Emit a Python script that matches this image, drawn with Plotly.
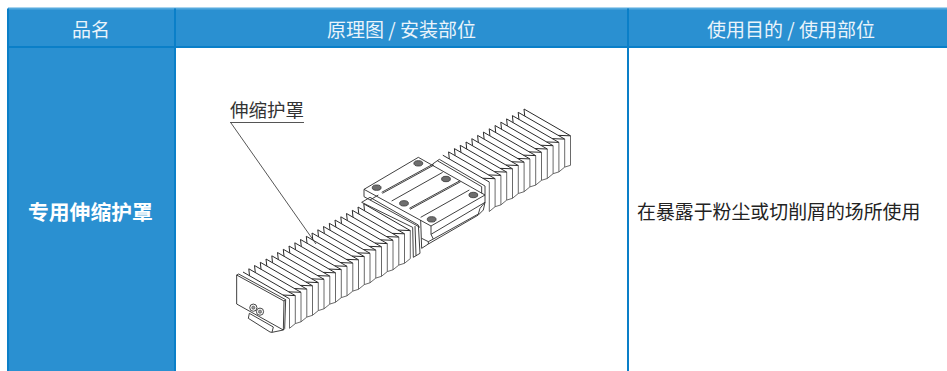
import plotly.graph_objects as go

# ---- table content ----
header_labels = ["品名", "原理图 / 安装部位", "使用目的 / 使用部位"]
header_centers = [91, 401, 791]
column_edges = [8, 175, 628, 947]
row_edges = [8.5, 47, 371]
product_name = "专用伸缩护罩"
usage_text = "在暴露于粉尘或切削屑的场所使用"
callout_text = "伸缩护罩"

BLUE = "#2a90d1"
BORDER = "#0a7fc8"
INK = "#2b2b2b"

# ---- illustration: ridge start points of each pleat ----
left_peak_x = [243, 248.8, 254.5, 260.3, 266, 271.8, 277.5, 283.3, 289, 294.8, 300.5,
               306.3, 312, 317.8, 323.5, 329.3, 335, 340.8, 346.5, 352.3, 358, 363.8]
left_peak_y = [272, 268.8, 265.5, 262.3, 259, 255.8, 252.5, 249.3, 246, 242.8, 239.5,
               236.3, 233, 229.8, 226.5, 223.3, 220, 216.8, 213.5, 210.3, 207, 203.8]
right_peak_x = [442.8, 448.6, 454.4, 460.2, 466, 471.8, 477.6, 483.4, 489.2, 495,
                500.8, 506.6, 512.4, 518.2, 524]
right_peak_y = [155.2, 151.9, 148.6, 145.3, 142, 138.7, 135.4, 132.1, 128.8, 125.5,
                122.2, 118.9, 115.6, 112.3, 109]
ridge_run = (46.5, 26.8)
face_drop = 28
notch_along = 0.14

# carriage outlines, pixels on the 3x crop around (350,140)
carriage_clear = [(42,148),(205,52),(248,72),(268,58),(405,138),(408,205),(255,300),(215,328),(205,262),(42,170),(42,148)]
carriage_lines = [
    [(42,148),(205,52),(405,165),(243,258),(42,148)],
    [(42,148),(42,170),(210,262)],
    [(243,258),(243,283),(405,187),(405,165)],
    [(248,72),(268,58),(405,138),(405,165)],
    [(262,62),(395,140),(395,160)],
    [(95,157),(250,72)], [(97,160),(252,75)],
    [(178,205),(330,122)], [(180,208),(332,125)],
    [(125,183),(278,97)],
    [(212,232),(358,150)],
    [(243,283),(250,297),(385,222),(390,205),(405,187)],
    [(212,240),(215,325),(235,312),(385,225),(400,210),(405,187)],
    [(215,295),(235,305),(250,297)],
    [(235,305),(235,312)],
    [(60,180),(85,165)],
    [(35,187),(60,172),(205,255)],
    [(205,255),(210,340),(190,352),(188,262),(35,187)],
    [(195,258),(198,347)],
]
carriage_hole_x = [80, 205, 288, 162, 370, 245]
carriage_hole_y = [143, 70, 117, 190, 165, 238]

# end cap of the left bellows, pixels on the 3x crop around (220,230)
cap_face = [(50,135),(192,213),(190,300),(50,222),(50,135)]
cap_lines = [
    [(50,135),(56,132),(197,209),(192,213)],
    [(197,209),(194,296),(190,300)],
    [(88,250),(85,265),(150,306),(156,307),(160,291)],
    [(88,250),(160,291)],
    [(156,307),(190,300)],
]
cap_screw_x = [100, 120]
cap_screw_y = [233, 245]

callout_line = [(230, 122.5), (304, 122.5)]
leader_line = [(231, 123), (316, 244)]


def crop(points, ox, oy):
    return [(ox + a / 3, oy + b / 3) for a, b in points]


fig = go.Figure()


def stroke(paths, width=0.9, color=INK):
    xs, ys = [], []
    for p in paths:
        xs += [q[0] for q in p] + [None]
        ys += [q[1] for q in p] + [None]
    fig.add_trace(go.Scatter(x=xs, y=ys, mode="lines", hoverinfo="skip",
                             line=dict(color=color, width=width, simplify=False)))


def solid(poly, color="white"):
    fig.add_trace(go.Scatter(x=[q[0] for q in poly], y=[q[1] for q in poly], mode="lines",
                             fill="toself", fillcolor=color, hoverinfo="skip",
                             line=dict(color=color, width=0)))


def bellows(px, py):
    ridges, faces = [], []
    n = len(px)
    for i, (x, y) in enumerate(zip(px, py)):
        fx, fy = x + ridge_run[0], y + ridge_run[1]
        ridges.append([(x, y), (fx, fy)])
        drop = face_drop if i % 2 else face_drop + 1.5
        faces.append([(fx, fy), (fx, fy + drop)])
        if i + 1 < n:
            nx, ny = px[i + 1], py[i + 1]
            # back tooth: from a point on this ridge up to the next peak
            ridges.append([(x + ridge_run[0] * notch_along, y + ridge_run[1] * notch_along), (nx, ny)])
            # front tooth: from the next ridge end down to just before this ridge end
            mx, my = nx + ridge_run[0], ny + ridge_run[1]
            ridges.append([(mx, my), (fx - ridge_run[0] * notch_along, fy - ridge_run[1] * notch_along)])
            d2 = face_drop if (i + 1) % 2 else face_drop + 1.5
            faces.append([(fx, fy + drop), (mx, my + d2)])
    stroke(ridges, 1.0)
    stroke(faces, 0.8, "#444444")


# bellows
bellows(right_peak_x, right_peak_y)
bellows(left_peak_x, left_peak_y)

# end cap
solid(crop(cap_face, 220, 230))
stroke([crop(cap_face, 220, 230)] + [crop(p, 220, 230) for p in cap_lines], 0.9)

# carriage
solid(crop(carriage_clear, 350, 140))
stroke([crop(p, 350, 140) for p in carriage_lines], 0.9)

# callout
stroke([callout_line], 1.0, "#555555")
stroke([leader_line], 0.8)

shapes = []
# header band and first column
shapes.append(dict(type="rect", x0=column_edges[0], x1=column_edges[3], y0=row_edges[0], y1=row_edges[1],
                   fillcolor=BLUE, line_width=0, layer="below"))
shapes.append(dict(type="rect", x0=column_edges[0], x1=column_edges[1], y0=row_edges[1], y1=row_edges[2],
                   fillcolor=BLUE, line_width=0, layer="below"))
# borders
shapes.append(dict(type="line", x0=column_edges[0], x1=column_edges[3], y0=row_edges[0], y1=row_edges[0],
                   line=dict(color="#55a9dd", width=2), layer="below"))
shapes.append(dict(type="line", x0=column_edges[0], x1=column_edges[3], y0=row_edges[1], y1=row_edges[1],
                   line=dict(color=BORDER, width=2), layer="below"))
for xe in column_edges[:3]:
    shapes.append(dict(type="line", x0=xe, x1=xe, y0=row_edges[0], y1=row_edges[2],
                       line=dict(color=BORDER, width=2), layer="below"))
# screws and mounting holes
for hx, hy in zip(carriage_hole_x, carriage_hole_y):
    cx, cy = 350 + hx / 3, 140 + hy / 3
    shapes.append(dict(type="circle", x0=cx - 4.4, x1=cx + 4.4, y0=cy - 2.7, y1=cy + 2.7,
                       fillcolor="#6e6e6e", line=dict(color="#333333", width=0.8)))
for hx, hy in zip(cap_screw_x, cap_screw_y):
    cx, cy = 220 + hx / 3, 230 + hy / 3
    shapes.append(dict(type="circle", x0=cx - 3.6, x1=cx + 3.6, y0=cy - 3.6, y1=cy + 3.6,
                       fillcolor="white", line=dict(color="#333333", width=0.9)))
    shapes.append(dict(type="circle", x0=cx - 1.6, x1=cx + 1.6, y0=cy - 1.6, y1=cy + 1.6,
                       fillcolor="#999999", line=dict(color="#444444", width=0.6)))

FONT = "Noto Sans CJK SC"
ann = []
for cx, t in zip(header_centers, header_labels):
    ann.append(dict(x=cx, y=28.5, text=t, showarrow=False,
                    xanchor="center", yanchor="middle",
                    font=dict(family=FONT, size=19, color="#eaf4fb")))
ann.append(dict(x=90.5, y=210.5, text="<b>" + product_name + "</b>", showarrow=False, xanchor="center",
                yanchor="middle", font=dict(family=FONT, size=20.8, color="white")))
ann.append(dict(x=634.8, y=210, text=usage_text, showarrow=False, xanchor="left", yanchor="middle",
                font=dict(family=FONT, size=18.9, color="#222222")))
ann.append(dict(x=267, y=109, text=callout_text, showarrow=False, xanchor="center", yanchor="middle",
                font=dict(family=FONT, size=18.5, color="#333333")))

fig.update_layout(
    width=947, height=371, autosize=False,
    margin=dict(l=0, r=0, t=0, b=0),
    paper_bgcolor="white", plot_bgcolor="white",
    showlegend=False,
    xaxis=dict(range=[0, 947], visible=False, fixedrange=True),
    yaxis=dict(range=[371, 0], visible=False, fixedrange=True),
    shapes=shapes, annotations=ann,
)
fig.write_html("out.html", config={"displayModeBar": False},
               post_script="document.body.style.margin='0';document.body.style.overflow='hidden';")
